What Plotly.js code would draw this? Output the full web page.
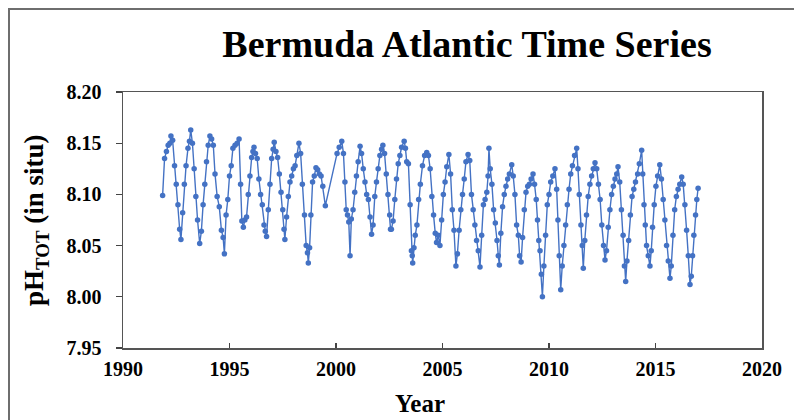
<!DOCTYPE html>
<html>
<head>
<meta charset="utf-8">
<script src="https://cdn.plot.ly/plotly-3.0.1.min.js"></script>
<style>
  html, body { margin: 0; padding: 0; background: #fff; }
  #wrap { position: relative; width: 794px; height: 420px; overflow: hidden; }
  #chart { width: 794px; height: 420px; }
  #frame { position: absolute; left: 8px; top: 8px; width: 790px; height: 430px;
           border: 2px solid #6e6e6e; box-sizing: border-box; pointer-events: none; }
</style>
</head>
<body>
<div id="wrap">
  <div id="chart"></div>
  <div id="frame"></div>
</div>
<script>
// Decimal year of each BATS sample
const decYear = [
  1991.86,1991.95,1992.04,1992.12,1992.20,1992.25,1992.33,1992.42,1992.50,1992.58,1992.66,1992.72,1992.80,1992.88,1992.96,
  1993.05,1993.12,1993.18,1993.26,1993.34,1993.42,1993.50,1993.60,1993.68,1993.76,1993.84,1993.92,
  1994.00,1994.08,1994.16,1994.24,1994.32,1994.42,1994.52,1994.62,1994.70,1994.76,1994.84,1994.92,
  1995.00,1995.08,1995.16,1995.26,1995.36,1995.45,1995.52,1995.58,1995.65,1995.72,1995.80,1995.88,1995.96,
  1996.04,1996.10,1996.15,1996.22,1996.30,1996.38,1996.46,1996.54,1996.62,1996.68,1996.74,1996.82,1996.90,1996.98,
  1997.05,1997.10,1997.18,1997.26,1997.34,1997.42,1997.50,1997.56,1997.60,1997.68,1997.76,1997.84,1997.92,
  1998.00,1998.08,1998.16,1998.26,1998.34,1998.42,1998.52,1998.60,1998.66,1998.70,1998.76,1998.82,1998.90,1998.98,
  1999.06,1999.14,1999.22,1999.30,1999.38,1999.50,
  2000.05,2000.15,2000.27,2000.35,2000.42,2000.48,2000.54,2000.60,2000.66,2000.72,2000.80,2000.88,2000.96,
  2001.04,2001.13,2001.20,2001.28,2001.36,2001.44,2001.52,2001.60,2001.67,2001.74,2001.82,2001.90,2001.98,
  2002.06,2002.14,2002.20,2002.28,2002.36,2002.44,2002.52,2002.56,2002.60,2002.68,2002.76,2002.84,2002.92,
  2003.00,2003.08,2003.20,2003.26,2003.32,2003.40,2003.48,2003.54,2003.58,2003.60,2003.66,2003.72,2003.80,2003.88,2003.96,
  2004.06,2004.16,2004.26,2004.34,2004.42,2004.50,2004.58,2004.66,2004.72,2004.80,2004.88,2004.96,
  2005.04,2005.12,2005.20,2005.30,2005.38,2005.46,2005.54,2005.63,2005.70,2005.78,2005.86,2005.94,
  2006.02,2006.10,2006.20,2006.28,2006.36,2006.44,2006.52,2006.60,2006.68,2006.76,2006.84,2006.92,
  2007.00,2007.08,2007.14,2007.18,2007.24,2007.32,2007.40,2007.48,2007.56,2007.62,2007.67,2007.74,2007.82,2007.90,2007.98,
  2008.06,2008.14,2008.25,2008.32,2008.40,2008.48,2008.56,2008.62,2008.69,2008.76,2008.84,2008.92,
  2009.00,2009.08,2009.16,2009.25,2009.32,2009.40,2009.46,2009.52,2009.58,2009.64,2009.69,2009.76,2009.84,2009.92,
  2010.00,2010.08,2010.18,2010.28,2010.36,2010.42,2010.48,2010.55,2010.62,2010.70,2010.78,2010.86,2010.94,
  2011.02,2011.10,2011.20,2011.30,2011.36,2011.42,2011.50,2011.56,2011.61,2011.68,2011.76,2011.84,2011.92,
  2012.00,2012.08,2012.16,2012.24,2012.32,2012.40,2012.48,2012.56,2012.63,2012.70,2012.78,2012.86,2012.94,
  2013.02,2013.10,2013.18,2013.24,2013.32,2013.40,2013.48,2013.54,2013.60,2013.66,2013.74,2013.82,2013.90,2013.98,
  2014.06,2014.16,2014.24,2014.35,2014.40,2014.46,2014.52,2014.58,2014.66,2014.74,2014.80,2014.86,2014.94,
  2015.02,2015.10,2015.20,2015.28,2015.36,2015.44,2015.52,2015.60,2015.68,2015.74,2015.82,2015.90,2015.98,
  2016.06,2016.14,2016.23,2016.30,2016.38,2016.46,2016.54,2016.62,2016.68,2016.74,2016.80,2016.88,2016.94,
  2017.00
];
// pH (total scale, in situ)
const phTot = [
  8.099,8.135,8.142,8.148,8.150,8.157,8.153,8.128,8.110,8.090,8.066,8.056,8.082,8.110,8.128,
  8.145,8.152,8.163,8.150,8.125,8.098,8.075,8.052,8.064,8.090,8.110,8.132,
  8.148,8.157,8.154,8.148,8.120,8.098,8.088,8.065,8.058,8.042,8.080,8.095,
  8.118,8.128,8.145,8.148,8.150,8.154,8.110,8.074,8.068,8.075,8.078,8.100,8.118,
  8.136,8.142,8.146,8.140,8.135,8.115,8.100,8.090,8.070,8.064,8.059,8.085,8.110,8.135,
  8.144,8.151,8.142,8.136,8.120,8.102,8.085,8.066,8.056,8.078,8.098,8.112,8.118,
  8.125,8.128,8.138,8.150,8.140,8.110,8.080,8.050,8.043,8.033,8.048,8.080,8.112,8.118,
  8.126,8.124,8.120,8.118,8.108,8.089,
  8.140,8.146,8.152,8.140,8.112,8.085,8.080,8.073,8.040,8.076,8.085,8.102,8.118,
  8.132,8.147,8.140,8.125,8.112,8.100,8.095,8.078,8.061,8.070,8.098,8.112,8.125,
  8.138,8.144,8.148,8.140,8.120,8.100,8.080,8.066,8.066,8.074,8.095,8.115,8.130,
  8.138,8.146,8.152,8.145,8.132,8.130,8.090,8.045,8.040,8.033,8.048,8.060,8.070,8.095,8.110,
  8.128,8.138,8.141,8.138,8.125,8.098,8.080,8.062,8.053,8.060,8.050,8.075,
  8.100,8.112,8.127,8.139,8.120,8.085,8.065,8.030,8.042,8.065,8.085,8.100,
  8.115,8.132,8.139,8.133,8.100,8.085,8.070,8.055,8.045,8.029,8.060,8.090,
  8.095,8.102,8.118,8.145,8.125,8.110,8.085,8.072,8.055,8.040,8.031,8.062,8.088,8.100,8.108,
  8.115,8.120,8.129,8.118,8.100,8.070,8.060,8.040,8.034,8.058,8.085,8.102,
  8.108,8.110,8.115,8.120,8.110,8.095,8.075,8.055,8.045,8.022,8.000,8.030,8.060,8.090,
  8.100,8.112,8.118,8.125,8.105,8.075,8.040,8.007,8.030,8.050,8.070,8.090,8.105,
  8.120,8.128,8.138,8.145,8.125,8.100,8.070,8.050,8.028,8.055,8.080,8.098,8.110,
  8.118,8.125,8.131,8.125,8.110,8.095,8.070,8.050,8.036,8.045,8.068,8.085,8.100,
  8.108,8.115,8.120,8.127,8.112,8.085,8.060,8.030,8.015,8.035,8.055,8.080,8.098,8.105,
  8.112,8.120,8.130,8.143,8.120,8.090,8.070,8.050,8.040,8.030,8.045,8.068,8.090,
  8.108,8.118,8.129,8.115,8.095,8.075,8.050,8.035,8.018,8.030,8.060,8.085,8.098,
  8.105,8.110,8.117,8.110,8.090,8.065,8.040,8.012,8.020,8.040,8.060,8.080,8.095,
  8.106
];
const xTicks = [1990, 1995, 2000, 2005, 2010, 2015, 2020];
const yTicks = [7.95, 8.00, 8.05, 8.10, 8.15, 8.20];
const yTickText = ["7.95", "8.00", "8.05", "8.10", "8.15", "8.20"];

const serif = "Liberation Serif, Times New Roman, serif";
const blue = "#4472C4";

const trace = {
  x: decYear, y: phTot, type: "scatter", mode: "lines+markers",
  line: { color: blue, width: 1.4 },
  marker: { color: blue, size: 5.5, symbol: "circle" },
  hoverinfo: "skip"
};

const layout = {
  width: 794, height: 420,
  margin: { l: 123, r: 32, t: 92, b: 72, pad: 0 },
  paper_bgcolor: "#fff", plot_bgcolor: "#fff",
  showlegend: false,
  title: {
    text: "<b>Bermuda Atlantic Time Series</b>",
    font: { family: serif, size: 38, color: "#000" },
    xref: "container", yref: "container",
    x: 467 / 794, xanchor: "center", y: 1 - 44 / 420, yanchor: "middle"
  },
  xaxis: {
    range: [1990, 2020], tickvals: xTicks, ticktext: xTicks.map(String),
    ticks: "inside", ticklen: 5, tickwidth: 1.3, tickcolor: "#444",
    showline: true, linecolor: "#555", linewidth: 1.5, mirror: true,
    showgrid: false, zeroline: false, ticklabelstandoff: 2,
    tickfont: { family: serif, size: 20, color: "#000", weight: "bold" }
  },
  yaxis: {
    range: [7.95, 8.20], tickvals: yTicks, ticktext: yTickText,
    ticks: "outside", ticklen: 6, tickwidth: 1.3, tickcolor: "#444",
    showline: true, linecolor: "#555", linewidth: 1.5, mirror: true,
    showgrid: false, zeroline: false, ticklabelstandoff: 10,
    tickfont: { family: serif, size: 20, color: "#000", weight: "bold" }
  },
  annotations: [
    { text: "<b>pH<sub>TOT</sub> (in situ)</b>", xref: "paper", yref: "paper",
      x: (36 - 123) / 639, y: 0.5, xanchor: "center", yanchor: "middle",
      textangle: -90, showarrow: false,
      font: { family: serif, size: 27, color: "#000" } },
    { text: "<b>Year</b>", xref: "paper", yref: "paper",
      x: (420 - 123) / 639, y: (348 - 403) / 256, xanchor: "center", yanchor: "middle",
      showarrow: false, font: { family: serif, size: 25, color: "#000" } }
  ]
};

Plotly.newPlot("chart", [trace], layout, { displayModeBar: false, staticPlot: true });
</script>
</body>
</html>
